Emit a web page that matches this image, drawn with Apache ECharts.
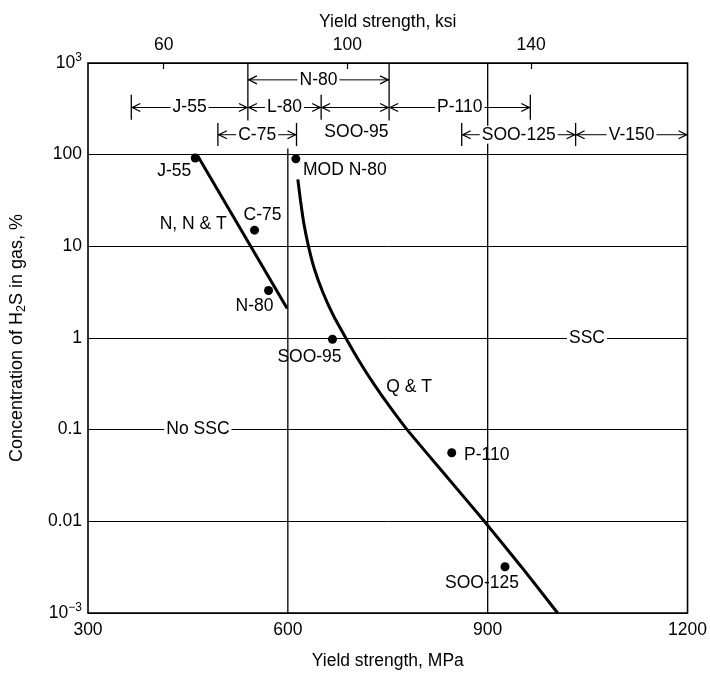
<!DOCTYPE html>
<html>
<head>
<meta charset="utf-8">
<script src="https://cdn.jsdelivr.net/npm/echarts@6.0.0/dist/echarts.min.js"></script>
<style>
  html, body { margin: 0; padding: 0; background: #fff; }
  #chart { width: 710px; height: 675px; }
</style>
</head>
<body>
<div id="chart"></div>
<script>
// axis ticks
const mpaTicks = [300, 600, 900, 1200];
const ksiTicks = [60, 100, 140];
const concTickLabels = ['10^-3', '0.01', '0.1', '1', '10', '100', '10^3'];
const KSI_TO_MPA = 6.895;

// test points
const pointNames = ['J-55', 'MOD N-80', 'C-75', 'N-80', 'SOO-95', 'P-110', 'SOO-125'];
const pointMPa = [461, 612, 550, 571, 667, 846, 926];
const pointConc = [92, 90, 15, 3.3, 0.97, 0.056, 0.0032];

// N, N & T boundary
const nntMPa = [465, 599];
const nntConc = [96, 2.1];

// Q & T boundary
const qtMPa = [615, 619, 624, 631, 640, 652.5, 668, 687, 707, 729, 753, 779, 837, 895, 951, 1005];
const qtConc = [53.7, 31.6, 17.8, 10, 5.62, 3.16, 1.78, 1, 0.562, 0.316, 0.178, 0.1, 0.0316, 0.01, 0.00316, 0.001];

// grade ranges drawn at the top
const rangeNames = ['N-80', 'J-55', 'L-80', '', 'P-110', 'C-75', 'SOO-125', 'V-150'];
const rangeFrom = [540, 365, 540, 650, 752, 495, 861, 1032];
const rangeTo = [752, 540, 650, 752, 964, 613, 1032, 1200];
const rangeConc = [655, 327, 327, 327, 327, 165, 165, 165];

// vertical marker lines
const barMPa = [365, 540, 650, 752, 964, 495, 613, 861, 1032, 600, 900];
const barLow = [240, 236, 240, 236, 240, 124, 124, 124, 124, 0.001, 0.001];
const barHigh = [450, 1000, 450, 1000, 450, 222, 222, 222, 222, 117, 1000];

// free text
const noteNames = ['N, N & T', 'Q & T', 'SOO-95', 'No SSC', 'SSC'];
const noteMPa = [458, 782, 703, 465, 1049];
const noteConc = [17.6, 0.29, 178, 0.1, 1];

const FONT = '"Liberation Sans", Arial, sans-serif';
const FS = 17.5;

// label placement for the points (pixels from dot centre)
const pointLabelOffset = {
  'J-55': [-21, 13], 'MOD N-80': [49, 11], 'C-75': [8, -15], 'N-80': [-14, 16],
  'SOO-95': [-23, 18], 'P-110': [35, 2], 'SOO-125': [-23, 16]
};

const chart = echarts.init(document.getElementById('chart'));

const option = {
  animation: false,
  backgroundColor: '#fff',
  textStyle: { fontFamily: FONT, color: '#000' },
  grid: { left: 84, right: 20, top: 63, bottom: 52, show: true, borderColor: '#000', borderWidth: 1.6 },
  xAxis: [
    {
      type: 'value', min: 300, max: 1200, interval: 300, position: 'bottom',
      axisLine: { show: false }, axisTick: { show: false }, splitLine: { show: false },
      axisLabel: { color: '#000', fontSize: FS, margin: 8, fontFamily: FONT, formatter: (v) => String(v) },
      name: 'Yield strength, MPa', nameLocation: 'middle', nameGap: 39,
      nameTextStyle: { color: '#000', fontSize: FS, fontFamily: FONT }
    },
    {
      type: 'value', min: 300 / KSI_TO_MPA, max: 1200 / KSI_TO_MPA, position: 'top',
      axisLine: { show: false }, splitLine: { show: false },
      axisTick: { show: true, inside: true, length: 6, customValues: ksiTicks, lineStyle: { color: '#000', width: 1.2 } },
      axisLabel: { customValues: ksiTicks, color: '#000', fontSize: FS, margin: 9, fontFamily: FONT, formatter: (v) => String(v) },
      name: 'Yield strength, ksi', nameLocation: 'middle', nameGap: 31,
      nameTextStyle: { color: '#000', fontSize: FS, fontFamily: FONT }
    }
  ],
  yAxis: {
    type: 'log', logBase: 10, min: 0.001, max: 1000,
    axisLine: { show: false }, axisTick: { show: false },
    splitLine: { show: true, lineStyle: { color: '#000', width: 1 } },
    axisLabel: {
      color: '#000', fontSize: FS, margin: 6, fontFamily: FONT,
      formatter: (v) => {
        const t = concTickLabels[Math.round(Math.log10(v)) + 3];
        if (t.indexOf('^') > 0) {
          const p = t.split('^');
          return '{b|' + p[0] + '}{s|' + p[1].replace('-', '\u2212') + '}';
        }
        return t;
      },
      rich: {
        b: { fontSize: FS, fontFamily: FONT, color: '#000' },
        s: { fontSize: 12, fontFamily: FONT, color: '#000', padding: [0, 0, 10, 0] }
      }
    },
    name: 'Concentration of H{sub|2}S in gas, %', nameLocation: 'middle', nameGap: 60, nameRotate: 90,
    nameTextStyle: {
      color: '#000', fontSize: 18, fontFamily: FONT,
      rich: { sub: { fontSize: 12.5, fontFamily: FONT, color: '#000', padding: [9, 0, 0, 0] } }
    }
  },
  series: [
    {
      name: 'markers', type: 'custom', xAxisIndex: 0, yAxisIndex: 0, silent: true,
      data: barMPa.map((x, i) => [x, barLow[i], barHigh[i]]),
      renderItem: (params, api) => {
        const p1 = api.coord([api.value(0), api.value(1)]);
        const p2 = api.coord([api.value(0), api.value(2)]);
        return {
          type: 'line',
          shape: { x1: p1[0], y1: p1[1], x2: p2[0], y2: p2[1] },
          style: { stroke: '#000', lineWidth: 1.3 }
        };
      }
    },
    {
      name: 'ranges', type: 'custom', xAxisIndex: 0, yAxisIndex: 0, silent: true,
      data: rangeFrom.map((x, i) => [x, rangeTo[i], rangeConc[i], i]),
      renderItem: (params, api) => {
        const a = api.coord([api.value(0), api.value(2)]);
        const b = api.coord([api.value(1), api.value(2)]);
        const y = a[1];
        const label = rangeNames[api.value(3)];
        const kids = [
          { type: 'line', shape: { x1: a[0], y1: y, x2: b[0], y2: y }, style: { stroke: '#000', lineWidth: 1 } },
          { type: 'polyline', shape: { points: [[a[0] + 9, y - 4], [a[0] + 1, y], [a[0] + 9, y + 4]] }, style: { stroke: '#000', fill: null, lineWidth: 1.3 } },
          { type: 'polyline', shape: { points: [[b[0] - 9, y - 4], [b[0] - 1, y], [b[0] - 9, y + 4]] }, style: { stroke: '#000', fill: null, lineWidth: 1.3 } }
        ];
        if (label) {
          kids.push({
            type: 'text',
            style: {
              text: label, x: (a[0] + b[0]) / 2, y: y, align: 'center', verticalAlign: 'middle',
              fill: '#000', font: FS + 'px ' + FONT, backgroundColor: '#fff', padding: [0, 2]
            }
          });
        }
        return { type: 'group', children: kids };
      }
    },
    {
      name: 'notes', type: 'custom', xAxisIndex: 0, yAxisIndex: 0, silent: true,
      data: noteMPa.map((x, i) => [x, noteConc[i], i]),
      renderItem: (params, api) => {
        const p = api.coord([api.value(0), api.value(1)]);
        return {
          type: 'text',
          style: {
            text: noteNames[api.value(2)], x: p[0], y: p[1], align: 'center', verticalAlign: 'middle',
            fill: '#000', font: FS + 'px ' + FONT, backgroundColor: '#fff', padding: [0, 2]
          }
        };
      }
    },
    {
      name: 'N, N & T', type: 'line', xAxisIndex: 0, yAxisIndex: 0, symbol: 'none',
      data: nntMPa.map((x, i) => [x, nntConc[i]]),
      lineStyle: { color: '#000', width: 3 }
    },
    {
      name: 'Q & T', type: 'line', xAxisIndex: 0, yAxisIndex: 0, symbol: 'none', smooth: 0.2,
      data: qtMPa.map((x, i) => [x, qtConc[i]]),
      lineStyle: { color: '#000', width: 3 }
    },
    {
      name: 'points', type: 'scatter', xAxisIndex: 0, yAxisIndex: 0, symbol: 'circle', symbolSize: 9,
      itemStyle: { color: '#000', opacity: 1 },
      data: pointNames.map((n, i) => ({
        name: n, value: [pointMPa[i], pointConc[i]],
        label: {
          show: true, position: 'inside', offset: pointLabelOffset[n], formatter: '{b}',
          color: '#000', fontSize: FS, fontFamily: FONT, opacity: 1
        }
      }))
    }
  ]
};

chart.setOption(option);
</script>
</body>
</html>
